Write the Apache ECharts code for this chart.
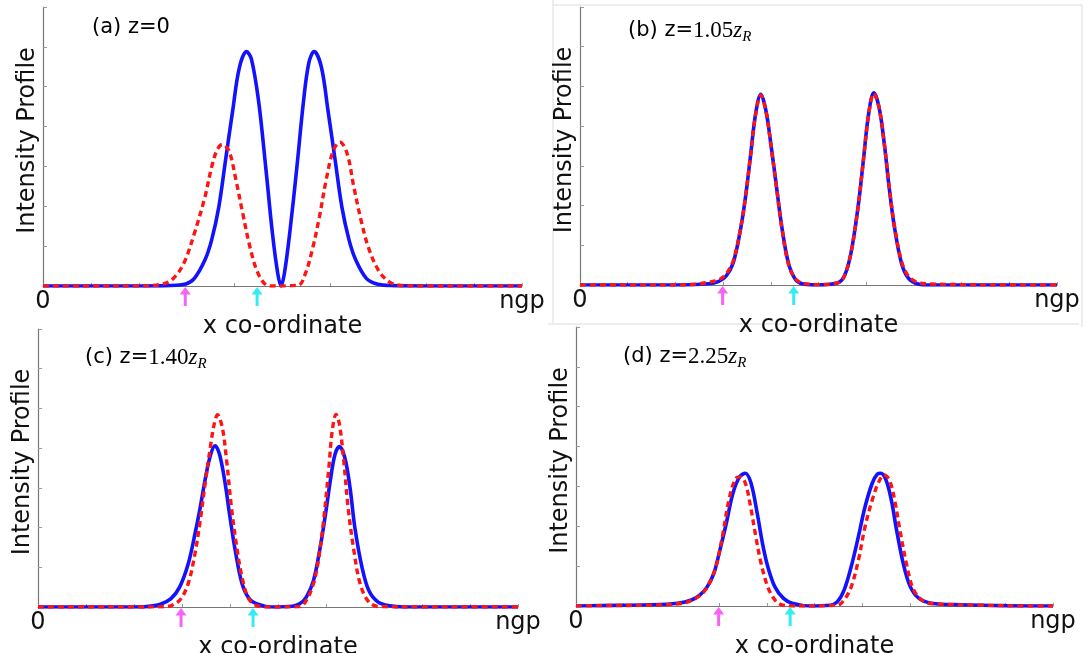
<!DOCTYPE html>
<html>
<head>
<meta charset="utf-8">
<script src="https://cdn.jsdelivr.net/npm/echarts@6/dist/echarts.min.js"></script>
<style>
html,body{margin:0;padding:0;background:#fff;}
#chart{width:1091px;height:653px;}
</style>
</head>
<body>
<div id="chart"></div>
<script>
// ---- data (x in % of ngp, y in tick units) ----
var xTickLabels = ['0', 'ngp'];
var panelTitles = ['(a) z=', '(b) z=', '(c) z=', '(d) z='];
var panelZ = ['0', '1.05', '1.40', '2.25'];

var aBlue = [[0,0],[10,0],[20,0],[26,0.01],[29.8,0.05],[31.6,0.19],[33.8,0.65],[35.2,1.15],[36.7,1.98],[38.1,3.15],[39.6,4.4],[41,5.48],[42.5,5.88],[43.5,5.7],[45,4.65],[46.5,2.98],[47.9,1.32],[49,0.32],[49.7,0],[50.4,0.32],[51.5,1.32],[53,2.98],[54.4,4.65],[55.5,5.6],[56.6,5.88],[58.1,5.5],[59.5,4.4],[61,3.15],[62.4,1.98],[63.9,1.15],[65.3,0.65],[67.5,0.19],[69.7,0.05],[73,0.01],[80,0],[90,0],[100,0]];
var aRed = [[0,0],[10,0],[20,0],[25,0.05],[27.2,0.19],[29.4,0.57],[31.6,1.32],[33.8,2.23],[35.2,2.98],[36.3,3.4],[37.4,3.55],[38.8,3.4],[40.3,2.65],[41.7,1.82],[43.2,0.98],[44.6,0.4],[46.1,0.08],[47.5,0],[53.3,0.02],[54.8,0.32],[56.2,0.9],[57.7,1.73],[59.1,2.65],[60.6,3.4],[62,3.61],[63.5,3.32],[64.9,2.48],[66.4,1.65],[67.9,0.98],[70,0.4],[72.2,0.11],[74.4,0.02],[80,0],[90,0],[100,0]];

var bBlue = [[0,0],[10,0],[20,0],[26.9,0.03],[29.1,0.09],[30.6,0.22],[32.1,0.55],[33.5,1.3],[34.6,2.13],[35.7,3.2],[36.8,4.3],[37.9,4.8],[39.0,4.38],[40.1,3.47],[41.2,2.47],[42.3,1.47],[43.7,0.55],[45.2,0.13],[46.6,0.03],[49.5,0],[53.9,0.05],[55.4,0.22],[56.8,0.8],[58.3,1.97],[59.4,3.13],[60.5,4.3],[61.6,4.84],[62.7,4.47],[63.8,3.55],[64.8,2.47],[65.9,1.47],[67.4,0.55],[68.8,0.18],[70.7,0.03],[72.9,0],[80,0],[90,0],[100,0]];
var bRed = [[0,0],[10,0],[20,0],[25,0.03],[26.9,0.07],[29.1,0.13],[30.6,0.27],[32.1,0.6],[33.5,1.32],[34.6,2.13],[35.7,3.2],[36.8,4.28],[37.9,4.78],[39.0,4.36],[40.1,3.45],[41.2,2.45],[42.3,1.45],[43.7,0.52],[45.2,0.15],[46.6,0.05],[49.5,0.01],[53.9,0.05],[55.4,0.22],[56.8,0.8],[58.3,1.97],[59.4,3.13],[60.5,4.28],[61.6,4.82],[62.7,4.47],[63.8,3.55],[64.8,2.5],[65.9,1.5],[67.4,0.6],[68.8,0.23],[70.7,0.07],[72.9,0.03],[80,0.01],[90,0],[100,0]];

var cBlue = [[0,0],[10,0],[20,0],[22.6,0.01],[25.5,0.07],[27.7,0.21],[29.5,0.5],[31.3,1.09],[32.7,1.84],[33.8,2.51],[34.9,3.26],[36.0,3.85],[36.9,4.06],[37.8,3.85],[38.9,3.18],[40.0,2.26],[41.1,1.42],[42.5,0.59],[44.0,0.21],[45.8,0.07],[48.7,0],[53.0,0.02],[54.5,0.08],[55.9,0.25],[57.4,0.67],[58.8,1.51],[59.9,2.34],[61.0,3.26],[61.9,3.85],[62.8,4.04],[63.9,3.77],[65.0,3.01],[66.0,2.01],[67.5,1.0],[68.9,0.42],[70.8,0.13],[73.3,0.03],[76.2,0],[90,0],[100,0]];
var cRed = [[0,0],[10,0],[20,0],[26.9,0.01],[28.4,0.07],[29.8,0.21],[31.3,0.59],[32.7,1.34],[33.8,2.18],[34.9,3.18],[36.0,4.1],[36.7,4.6],[37.4,4.84],[38.4,4.52],[39.3,3.68],[40.3,2.51],[41.4,1.51],[42.5,0.75],[43.7,0.25],[45.0,0.07],[47.2,0],[54.5,0.01],[55.9,0.17],[57.4,0.59],[58.4,1.17],[59.5,2.18],[60.6,3.51],[61.3,4.44],[62.1,4.85],[62.8,4.6],[63.7,3.68],[64.6,2.51],[65.7,1.51],[67.1,0.59],[68.9,0.13],[71.1,0.01],[80,0],[90,0],[100,0]];

var dBlue = [[0,0],[5,0.01],[15.4,0.03],[21.3,0.07],[24.2,0.15],[26.0,0.28],[27.5,0.48],[28.9,0.82],[30.0,1.32],[31.5,2.07],[32.9,2.83],[34.3,3.24],[35.5,3.33],[36.7,3.08],[38.0,2.32],[39.1,1.57],[40.2,0.99],[41.7,0.48],[43.5,0.19],[45.3,0.07],[49.0,0],[53.3,0.02],[54.8,0.11],[56.2,0.4],[57.7,0.99],[59.2,1.74],[60.6,2.49],[62.1,3.08],[63.2,3.31],[63.9,3.33],[65.0,3.16],[66.1,2.66],[67.2,1.91],[68.6,1.07],[70.1,0.48],[71.9,0.19],[74.5,0.07],[81.0,0.03],[88.3,0.01],[95,0],[100,0]];
var dRed = [[0,0],[5,0.01],[15.4,0.02],[22.7,0.08],[25.6,0.23],[27.1,0.4],[28.6,0.74],[29.7,1.15],[30.8,1.82],[32.2,2.74],[33.5,3.2],[34.4,3.24],[35.5,3.08],[36.6,2.49],[37.7,1.74],[38.8,1.07],[40.2,0.48],[41.7,0.15],[43.1,0.03],[46.1,0],[54.8,0.02],[56.2,0.15],[57.7,0.48],[59.2,1.15],[60.6,1.99],[62.1,2.66],[63.5,3.12],[64.6,3.29],[65.7,3.16],[66.8,2.66],[67.9,1.91],[69.4,0.99],[70.8,0.4],[73.0,0.11],[75.9,0.05],[84.7,0.02],[95,0],[100,0]];

var arrowMagenta = [29.7, 29.9, 29.8, 29.9];
var arrowCyan = [44.7, 44.8, 44.8, 44.9];

// ---- layout / styles ----
var blueSeries = [aBlue, bBlue, cBlue, dBlue];
var redSeries = [aRed, bRed, cRed, dRed];
var grids = [
  {left: 43, top: 7, width: 479, height: 279},
  {left: 580, top: 7, width: 477, height: 278},
  {left: 38, top: 329, width: 480, height: 278},
  {left: 576, top: 327, width: 477, height: 279}
];
var titlePos = [[92, 17], [628, 19], [85, 346], [623, 345]];
var SANS = 'DejaVu Sans';
var SERIF = 'Liberation Serif';
var arrowPath = 'path://M5.5 0 L11 8 L7 8 L7 20 L4 20 L4 8 L0 8 Z';

var option = {
  animation: false,
  backgroundColor: '#fff',
  grid: [], xAxis: [], yAxis: [], series: [], graphic: []
};

for (var i = 0; i < 4; i++) {
  var g = grids[i];
  option.grid.push({left: g.left, top: g.top, width: g.width, height: g.height,
    containLabel: false, outerBoundsMode: 'none', show: false});
  option.xAxis.push({
    type: 'value', gridIndex: i, min: 0, max: 100, interval: 10,
    axisLine: {show: true, onZero: false, lineStyle: {color: '#777', width: 1.2}},
    axisTick: {show: true, inside: true, length: 3, lineStyle: {color: '#999', width: 1}},
    splitLine: {show: false},
    axisLabel: {
      show: true, margin: 4, fontSize: 24, fontFamily: SANS, color: '#111',
      showMinLabel: true, showMaxLabel: true,
      formatter: function (v) { return v === 0 ? xTickLabels[0] : (v === 100 ? xTickLabels[1] : ''); }
    },
    name: 'x co-ordinate', nameLocation: 'middle', nameGap: 18,
    nameTextStyle: {fontSize: 24, fontFamily: SANS, color: '#111'}
  });
  option.yAxis.push({
    type: 'value', gridIndex: i, min: 0, max: 7, interval: 1,
    axisLine: {show: true, lineStyle: {color: '#777', width: 1.2}},
    axisTick: {show: true, inside: true, length: 4, lineStyle: {color: '#999', width: 1}},
    splitLine: {show: false},
    axisLabel: {show: false},
    name: 'Intensity Profile', nameLocation: 'middle', nameGap: 3,
    nameTextStyle: {fontSize: 24, fontFamily: SANS, color: '#111', padding: [0, 0, 0, 12]}
  });
  option.series.push({
    type: 'line', xAxisIndex: i, yAxisIndex: i, data: blueSeries[i],
    showSymbol: false, smooth: 0.35, z: 3,
    lineStyle: {color: '#1212ff', width: 3.6}
  });
  option.series.push({
    type: 'line', xAxisIndex: i, yAxisIndex: i, data: redSeries[i],
    showSymbol: false, smooth: 0.35, z: 4,
    lineStyle: {color: '#ff1414', width: 3.4, type: [6, 4]}
  });
  option.series.push({
    type: 'scatter', xAxisIndex: i, yAxisIndex: i, clip: false, z: 5,
    symbol: arrowPath, symbolSize: [11, 19], symbolOffset: [0, '55%'],
    data: [
      {value: [arrowMagenta[i], 0], itemStyle: {color: '#f43cf4'}},
      {value: [arrowCyan[i], 0], itemStyle: {color: '#00e8f0'}}
    ],
    silent: true
  });
  var rich = {
    s: {fontFamily: SANS, fontSize: 21, color: '#111', lineHeight: 28},
    n: {fontFamily: SERIF, fontSize: 23, color: '#111', lineHeight: 28},
    zi: {fontFamily: SERIF, fontStyle: 'italic', fontSize: 23, color: '#111', lineHeight: 28},
    sub: {fontFamily: SERIF, fontStyle: 'italic', fontSize: 15, color: '#111', lineHeight: 15, verticalAlign: 'bottom'}
  };
  var txt = i === 0 ? '{s|' + panelTitles[i] + panelZ[i] + '}'
                    : '{s|' + panelTitles[i] + '}{n|' + panelZ[i] + '}{zi|z}{sub|R}';
  option.graphic.push({
    type: 'text', left: titlePos[i][0], top: titlePos[i][1], z: 10,
    style: {text: txt, rich: rich}
  });
}

// faint borders of the composed sub-figures
var faint = '#dcdcdc';
option.graphic.push(
  {type: 'line', shape: {x1: 553, y1: 0, x2: 553, y2: 323}, style: {stroke: faint, lineWidth: 1}},
  {type: 'line', shape: {x1: 553, y1: 5, x2: 1082, y2: 5}, style: {stroke: faint, lineWidth: 1}},
  {type: 'line', shape: {x1: 1082, y1: 5, x2: 1082, y2: 327}, style: {stroke: faint, lineWidth: 1}},
  {type: 'line', shape: {x1: 548, y1: 324, x2: 1079, y2: 324}, style: {stroke: faint, lineWidth: 1}}
);

var chart = echarts.init(document.getElementById('chart'), null, {renderer: 'canvas'});
chart.setOption(option);
</script>
</body>
</html>
